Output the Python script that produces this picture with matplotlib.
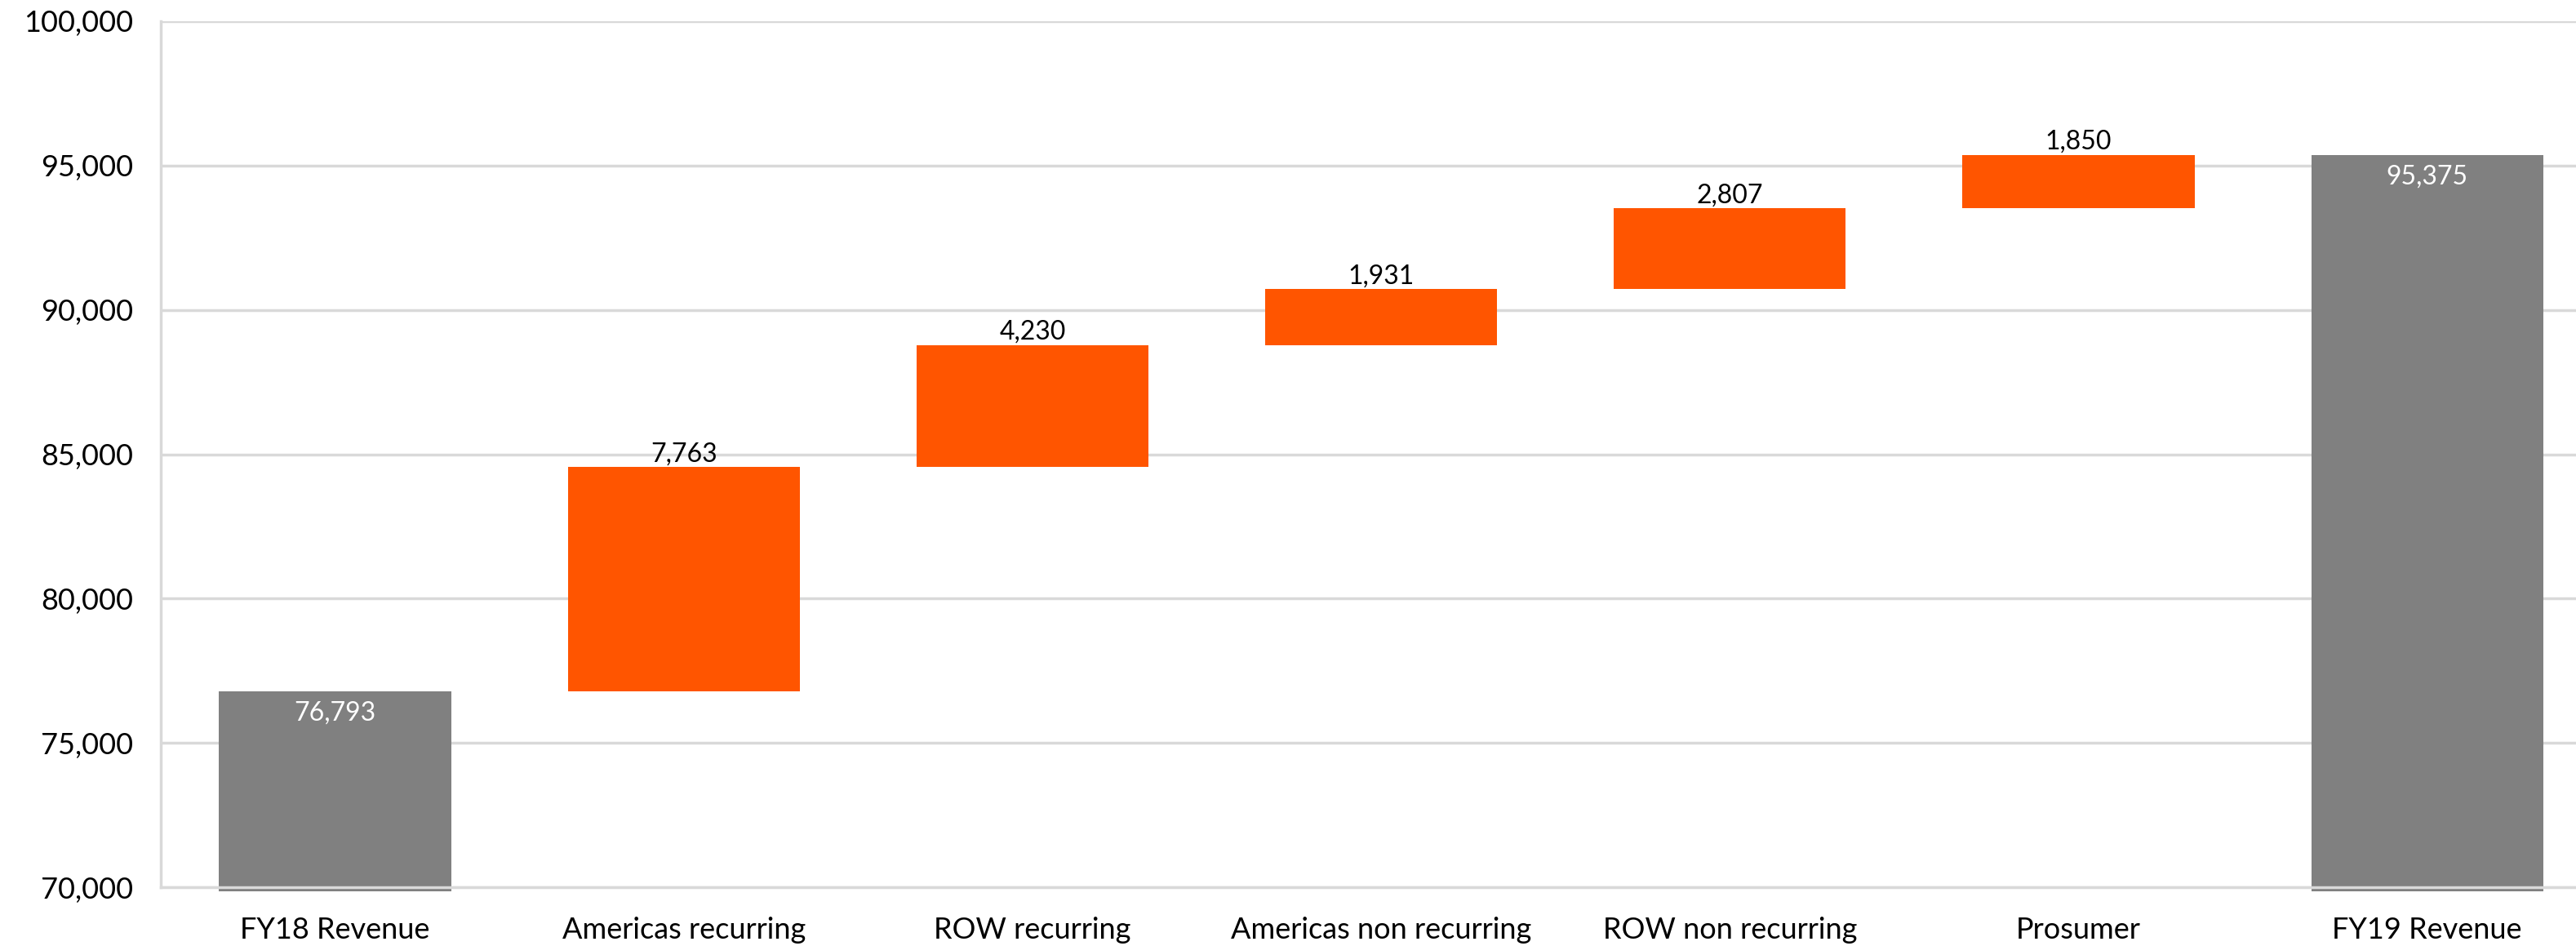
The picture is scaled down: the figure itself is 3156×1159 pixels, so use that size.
#!/usr/bin/env python3

import matplotlib
matplotlib.use("Agg")
import matplotlib.pyplot as plt
import numpy as np

# data
categories = ["FY18 Revenue", "Americas recurring", "ROW recurring",
              "Americas non recurring", "ROW non recurring", "Prosumer",
              "FY19 Revenue"]
start_total = 76793
changes = [7763, 4230, 1931, 2807, 1850]
end_total = 95375
y_ticks = [70000, 75000, 80000, 85000, 90000, 95000, 100000]

orange = "#FF5500"
grey = "#808080"
grid_c = "#D9D9D9"

plt.rcParams["font.family"] = ["Lato", "DejaVu Sans"]

fig = plt.figure(figsize=(31.56, 11.59), dpi=100)
ax = fig.add_axes([0.0624, 0.062, 0.9475, 0.9156])

x = np.arange(len(categories))
width = 0.665
ymin = y_ticks[0]

# totals
ax.bar(x[0], start_total - ymin + 130, bottom=ymin - 130, width=width,
       color=grey, zorder=2, clip_on=False)
ax.bar(x[-1], end_total - ymin + 130, bottom=ymin - 130, width=width,
       color=grey, zorder=2, clip_on=False)

# steps
bottoms = start_total + np.concatenate([[0], np.cumsum(changes)[:-1]])
ax.bar(x[1:-1], changes, bottom=bottoms, width=width, color=orange, zorder=2)

# labels
ax.text(x[0], start_total - 330, f"{start_total:,}", ha="center", va="top",
        color="white", fontsize=23)
ax.text(x[-1], end_total - 330, f"{end_total:,}", ha="center", va="top",
        color="white", fontsize=23)
for xi, b, c in zip(x[1:-1], bottoms, changes):
    ax.text(xi, b + c + 20, f"{c:,}", ha="center", va="bottom",
            color="black", fontsize=23)

ax.set_xlim(-0.5, len(categories) - 0.5)
ax.set_ylim(y_ticks[0], y_ticks[-1])
ax.set_yticks(y_ticks)
ax.set_yticklabels([f"{t:,}" for t in y_ticks])
ax.set_xticks(x)
ax.set_xticklabels(categories)
ax.tick_params(axis="both", length=0, labelsize=26, colors="black")
ax.tick_params(axis="y", pad=24)
ax.tick_params(axis="x", pad=26)

ax.yaxis.grid(True, color=grid_c, linewidth=2.5, zorder=1)
ax.set_axisbelow(True)
for s in ["top", "right"]:
    ax.spines[s].set_visible(False)
ax.spines["left"].set_color(grid_c)
ax.spines["left"].set_linewidth(2.5)
ax.spines["bottom"].set_color(grid_c)
ax.spines["bottom"].set_linewidth(2.5)
ax.spines["bottom"].set_zorder(3)

fig.savefig("out.png", dpi=100)
